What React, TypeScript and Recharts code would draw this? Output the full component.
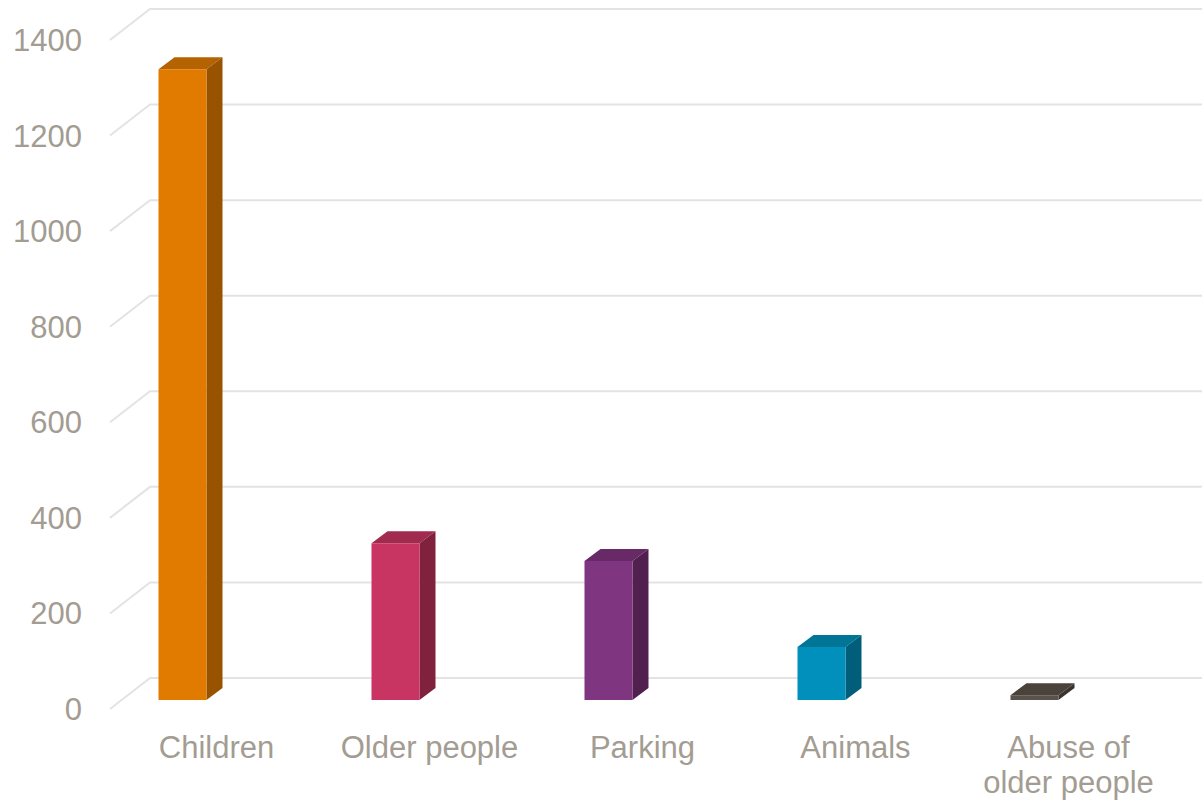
import { Bar, BarChart, CartesianGrid, XAxis, YAxis } from 'recharts'

const categories = ['Children', 'Older people', 'Parking', 'Animals', 'Abuse of older people']
const categoryLines = [['Children'], ['Older people'], ['Parking'], ['Animals'], ['Abuse of', 'older people']]
const counts = [1320, 328, 291, 111, 10]
const yTicks = [0, 200, 400, 600, 800, 1000, 1200, 1400]

const frontColors = ['#E07B00', '#C93562', '#7F3580', '#0090BB', '#5A534B']
const topColors = ['#B46300', '#A12A4F', '#672A67', '#007596', '#4A433B']
const sideColors = ['#985300', '#80213E', '#52204F', '#005E7A', '#3A342E']

const data = categories.map((name, i) => ({ name, count: counts[i], idx: i }))

const TEXT = '#A39C92'
const FONT = '"Liberation Sans", Arial, sans-serif'
const DX = 16
const DY = 12

function Box3D(props: any) {
  const { x, y, width, height, payload } = props
  const i = payload.idx
  const fx = x - 34.5
  const fy = y + 22
  const w = width
  const h = height
  return (
    <g>
      <polygon
        points={`${fx},${fy} ${fx + DX},${fy - DY} ${fx + w + DX},${fy - DY} ${fx + w},${fy}`}
        fill={topColors[i]}
      />
      <polygon
        points={`${fx + w},${fy} ${fx + w + DX},${fy - DY} ${fx + w + DX},${fy + h - DY} ${fx + w},${fy + h}`}
        fill={sideColors[i]}
      />
      <rect x={fx} y={fy} width={w} height={h} fill={frontColors[i]} />
    </g>
  )
}

function GridLine(props: any) {
  const { x1, x2, y1 } = props
  return (
    <path
      key={`g-${y1}`}
      d={`M${x1},${y1 + 31} L${x1 + 40},${y1} L${x2 + 27},${y1}`}
      stroke="#E3E3E3"
      strokeWidth={2}
      fill="none"
    />
  )
}

function YTick(props: any) {
  const { y, payload } = props
  return (
    <text x={82} y={y + 42} textAnchor="end" fill={TEXT} fontSize={31} fontFamily={FONT}>
      {payload.value}
    </text>
  )
}

function XTick(props: any) {
  const { x, payload } = props
  const lines = categoryLines[payload.index] ?? [payload.value]
  return (
    <text textAnchor="middle" fill={TEXT} fontSize={31} fontFamily={FONT}>
      {lines.map((line: string, k: number) => (
        <tspan key={k} x={x} y={758 + k * 35}>
          {line}
        </tspan>
      ))}
    </text>
  )
}

export default function App() {
  return (
    <div style={{ position: 'absolute', left: 0, top: 0, width: 1202, height: 803, background: '#fff' }}>
      <BarChart width={1202} height={803} data={data} margin={{ top: 9, right: 27, bottom: 0, left: 0 }}>
        <CartesianGrid vertical={false} horizontal={GridLine} />
        <XAxis
          dataKey="name"
          height={125}
          axisLine={false}
          tickLine={false}
          interval={0}
          tick={XTick}
        />
        <YAxis
          width={110}
          domain={[0, 1400]}
          ticks={yTicks}
          axisLine={false}
          tickLine={false}
          tick={YTick}
        />
        <Bar dataKey="count" barSize={48} shape={Box3D} isAnimationActive={false} />
      </BarChart>
    </div>
  )
}
